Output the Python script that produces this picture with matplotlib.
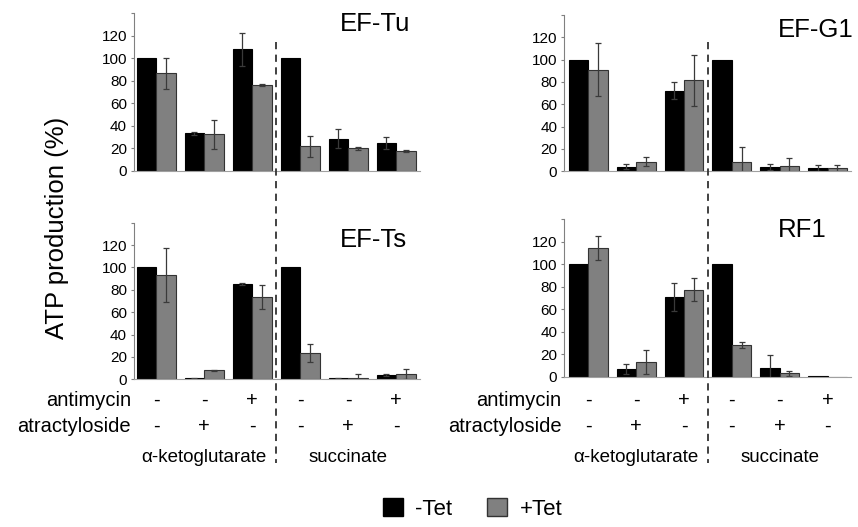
import matplotlib
matplotlib.use("Agg")
import matplotlib.pyplot as plt
import matplotlib.transforms as mtransforms
from matplotlib.patches import Patch
import numpy as np

plt.rcParams['font.family'] = ['Liberation Sans', 'DejaVu Sans']

# ---- data ----
conditions = ["ak_1", "ak_2", "ak_3", "suc_1", "suc_2", "suc_3"]
antimycin = ["-", "-", "+", "-", "-", "+"]
atractyloside = ["-", "+", "-", "-", "+", "-"]
substrates = ["\u03b1-ketoglutarate", "succinate"]
series_names = ["-Tet", "+Tet"]

eftu_minus = [100, 33.2, 107.9, 100, 28.4, 24.6]
eftu_minus_err = [0, 1.5, 15, 0, 8.3, 5.6]
eftu_plus = [86.5, 32.3, 75.9, 21.6, 19.9, 17.5]
eftu_plus_err = [13.5, 12.8, 1.0, 9.2, 1.5, 0.7]

efg1_minus = [100, 4.2, 72.2, 100, 3.9, 3.3]
efg1_minus_err = [0, 2.0, 7.5, 0, 2.4, 2.7]
efg1_plus = [91, 8.7, 81.5, 8.7, 5.1, 2.7]
efg1_plus_err = [23.7, 3.8, 22.7, 13.4, 6.5, 3.3]

efts_minus = [100, 0.9, 85, 100, 0.9, 3.6]
efts_minus_err = [0, 0.5, 0.7, 0, 0.5, 1.0]
efts_plus = [93, 8.1, 73.6, 23.9, 1.5, 4.5]
efts_plus_err = [24, 0.5, 11, 8, 3, 4.5]

rf1_minus = [100, 6.5, 70.5, 100, 7.7, 0.5]
rf1_minus_err = [0, 4.5, 12.5, 0, 11.9, 0]
rf1_plus = [114.4, 13, 77.3, 27.9, 3, 0]
rf1_plus_err = [10.6, 10.4, 10.1, 2.6, 2.0, 0]

y_ticks = [0, 20, 40, 60, 80, 100, 120, 140]
y_ticklabels = ["0", "20", "40", "60", "80", "100", "120", ""]

W, H = 858, 527
fig = plt.figure(figsize=(W / 100, H / 100), dpi=100)

def px_axes(x0, x1, ytop, ybot):
    return [x0 / W, 1 - ybot / H, (x1 - x0) / W, (ybot - ytop) / H]

panels = [
    ("EF-Tu", px_axes(134, 420, 13.3, 170.7), (-0.4625, 5.496), eftu_minus, eftu_minus_err, eftu_plus, eftu_plus_err, (206, 0.889)),
    ("EF-G1", px_axes(564.3, 851, 15, 171.3), (-0.5, 5.49), efg1_minus, efg1_minus_err, efg1_plus, efg1_plus_err, (214, 0.861)),
    ("EF-Ts", px_axes(134, 420, 222.7, 379.3), (-0.4625, 5.496), efts_minus, efts_minus_err, efts_plus, efts_plus_err, (206, 0.847)),
    ("RF1", px_axes(564.3, 851, 219, 376.7), (-0.5, 5.49), rf1_minus, rf1_minus_err, rf1_plus, rf1_plus_err, (214, 0.888)),
]

x = np.arange(len(conditions))
bw = 0.406
axes = []
for title, pos, xl, m, me, p, pe, tpos in panels:
    ax = fig.add_axes(pos)
    axes.append(ax)
    ekw = dict(ecolor='#3a3a3a', elinewidth=0.9, capsize=2.2, capthick=0.9)
    me_plot = [v if v > 0 else np.nan for v in me]
    pe_plot = [v if v > 0 else np.nan for v in pe]
    ax.bar(x - bw / 2, m, bw, color='black', edgecolor='black', linewidth=0.8)
    ax.bar(x + bw / 2, p, bw, color='#808080', edgecolor='#333333', linewidth=0.8)
    ax.errorbar(x - bw / 2, m, yerr=me_plot, fmt='none', **ekw)
    ax.errorbar(x + bw / 2, p, yerr=pe_plot, fmt='none', **ekw)
    ax.set_xlim(*xl)
    ax.set_ylim(0, 140)
    ax.set_yticks(y_ticks)
    ax.set_yticklabels(y_ticklabels, fontsize=11)
    ax.set_xticks([])
    for s in ['top', 'right']:
        ax.spines[s].set_visible(False)
    ax.spines['left'].set_color('#808080')
    ax.spines['bottom'].set_color('#a0a0a0')
    ax.spines['left'].set_linewidth(0.8)
    ax.spines['bottom'].set_linewidth(0.8)
    ax.tick_params(axis='y', length=2, width=0.8, color='#808080', pad=3)
    ax.patch.set_alpha(0)
    # title
    axw_px = pos[2] * W
    ax.text(tpos[0] / axw_px, tpos[1], title, transform=ax.transAxes,
            fontsize=18.5, ha='left', va='baseline')

# dashed separators
for ax in axes[:2]:
    tr = mtransforms.blended_transform_factory(ax.transData, fig.transFigure)
    fig.add_artist(plt.Line2D([2.5, 2.5], [1 - 42 / H, 1 - 463 / H], transform=tr,
                              color='#333333', linestyle=(0, (4, 3)), linewidth=1.3))

# condition labels under bottom panels
for ax in axes[2:]:
    tr = mtransforms.blended_transform_factory(ax.transData, fig.transFigure)
    off = mtransforms.offset_copy(ax.transAxes, fig=fig, x=-3, y=0, units='dots')
    tr_lab = mtransforms.blended_transform_factory(off, fig.transFigure)
    fig.text(0, 1 - 400.7 / H, "antimycin", transform=tr_lab, ha='right', va='center', fontsize=14.5)
    fig.text(0, 1 - 426.7 / H, "atractyloside", transform=tr_lab, ha='right', va='center', fontsize=14.5)
    for i in range(len(conditions)):
        fig.text(x[i], 1 - 400.7 / H, antimycin[i], transform=tr, ha='center', va='center', fontsize=14.5)
        fig.text(x[i], 1 - 426.7 / H, atractyloside[i], transform=tr, ha='center', va='center', fontsize=14.5)
    fig.text(1, 1 - 457 / H, substrates[0], transform=tr, ha='center', va='center', fontsize=13.5)
    fig.text(4, 1 - 457 / H, substrates[1], transform=tr, ha='center', va='center', fontsize=13.5)

fig.text(57 / W, 1 - 228 / H, "ATP production (%)", rotation=90, ha='center', va='center', fontsize=18.5)

handles = [Patch(facecolor='black', edgecolor='black'),
           Patch(facecolor='#808080', edgecolor='#333333')]
fig.legend(handles, series_names, loc='center', bbox_to_anchor=(0.5507, 1 - 509 / H),
           ncol=2, frameon=False, fontsize=16, handlelength=0.9, handleheight=0.85,
           handletextpad=0.55, columnspacing=1.6)

fig.savefig("out.png", dpi=100)
